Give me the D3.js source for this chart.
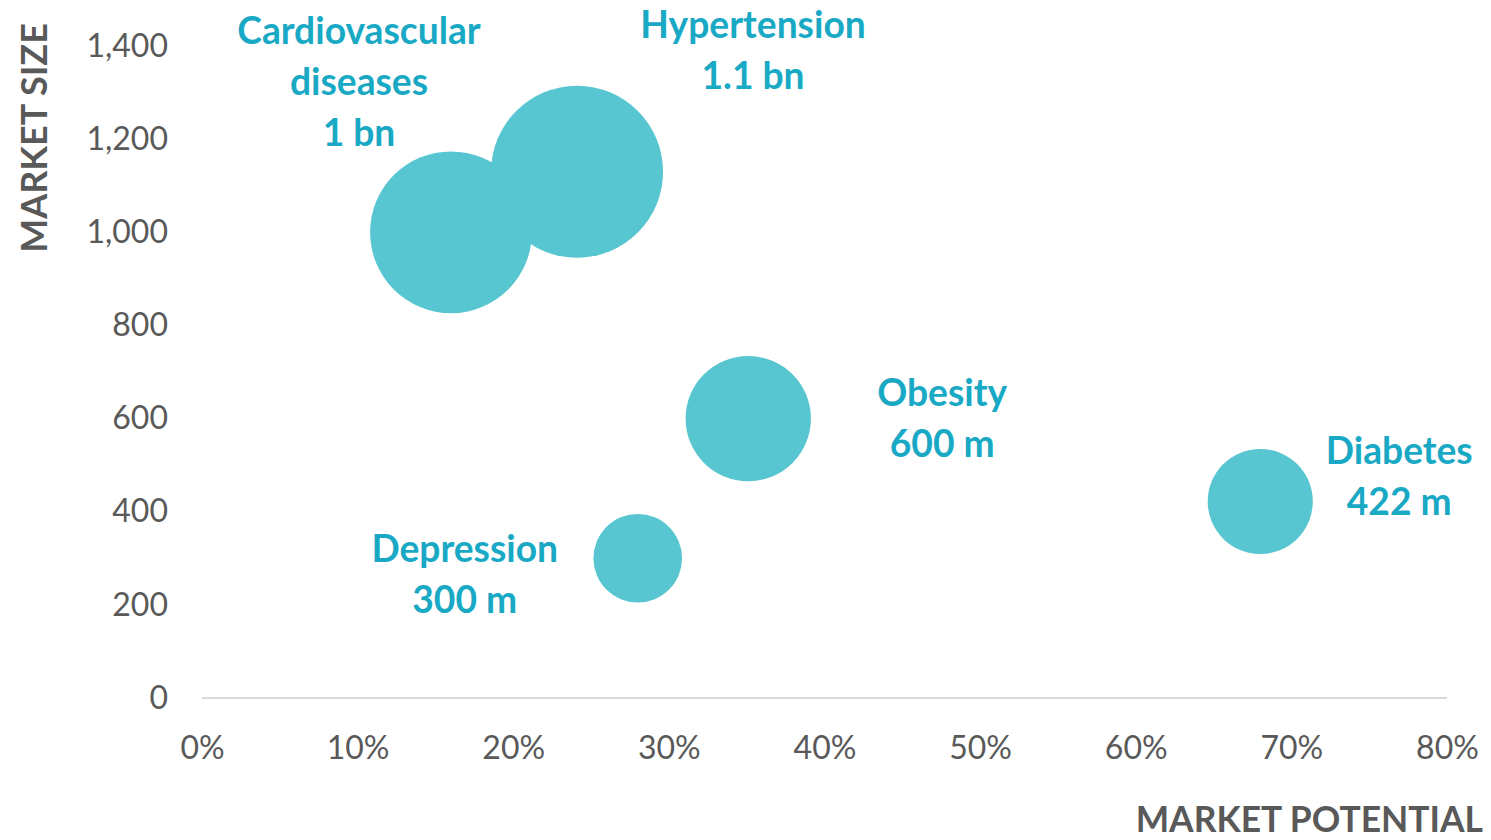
<!DOCTYPE html>
<html>
<head>
<meta charset="utf-8">
<script src="https://cdn.jsdelivr.net/npm/d3@7"></script>
<style>
  html, body { margin: 0; padding: 0; background: #ffffff; }
  svg { display: block; }
</style>
</head>
<body>
<svg id="chart" width="1491" height="840"></svg>
<script>
// Disease markets: potential (share) vs. size (millions of people)
const diseases  = ["Cardiovascular diseases", "Hypertension", "Obesity", "Depression", "Diabetes"];
const potential = [0.16, 0.241, 0.351, 0.28, 0.68];
const marketSize = [1000, 1130, 600, 300, 422];
const valueLabels = ["1 bn", "1.1 bn", "600 m", "300 m", "422 m"];
const nameLines = [["Cardiovascular", "diseases"], ["Hypertension"], ["Obesity"], ["Depression"], ["Diabetes"]];

const xTicks = [0, 0.1, 0.2, 0.3, 0.4, 0.5, 0.6, 0.7, 0.8];
const yTicks = [0, 200, 400, 600, 800, 1000, 1200, 1400];

// label placement relative to each bubble centre (dx = text centre, dy = first baseline)
const labelOffsets = [
  { dx: -92, dy: -188 },
  { dx: 176, dy: -134 },
  { dx: 194, dy: -13 },
  { dx: -173, dy: 4 },
  { dx: 139, dy: -37 }
];

const svg = d3.select("#chart");

const x = d3.scaleLinear().domain([0, 0.8]).range([202, 1447]);
const y = d3.scaleLinear().domain([0, 1400]).range([698, 46]);
const r = d3.scaleSqrt().domain([0, 1130]).range([0, 86]);

const BUBBLE = "#57c6d0";
const LABEL = "#19a9c5";
const GREY = "#595959";
const FONT = "Lato, 'Open Sans', sans-serif";

// baseline at zero
svg.append("line")
  .attr("x1", x(0)).attr("x2", x(0.8))
  .attr("y1", y(0)).attr("y2", y(0))
  .attr("stroke", "#d9d9d9").attr("stroke-width", 2);

// y axis (labels only)
const yAxis = d3.axisLeft(y).tickValues(yTicks).tickSize(0).tickPadding(0)
  .tickFormat(d3.format(","));
const gy = svg.append("g").attr("transform", "translate(168,0)").call(yAxis);
gy.select(".domain").remove();
gy.selectAll("text")
  .attr("font-family", FONT).attr("font-size", 32).attr("fill", GREY);

// x axis (labels only)
const xAxis = d3.axisBottom(x).tickValues(xTicks).tickSize(0).tickPadding(0)
  .tickFormat(d3.format(".0%"));
const gx = svg.append("g").attr("transform", "translate(0,736)").call(xAxis);
gx.select(".domain").remove();
gx.selectAll("text")
  .attr("font-family", FONT).attr("font-size", 32).attr("fill", GREY)
  .attr("dy", "0.71em");

// axis titles
svg.append("text")
  .attr("x", 1483).attr("y", 832)
  .attr("text-anchor", "end")
  .attr("font-family", FONT).attr("font-weight", 700).attr("font-size", 35.4)
  .attr("fill", GREY)
  .text("MARKET POTENTIAL");

svg.append("text")
  .attr("transform", "translate(47,138) rotate(-90)")
  .attr("text-anchor", "middle")
  .attr("font-family", FONT).attr("font-weight", 700).attr("font-size", 36)
  .attr("fill", GREY)
  .text("MARKET SIZE");

const rows = diseases.map((d, i) => ({
  name: d, p: potential[i], s: marketSize[i], value: valueLabels[i],
  lines: nameLines[i].concat([valueLabels[i]]), off: labelOffsets[i]
}));

// bubbles, area proportional to market size
svg.append("g").selectAll("circle")
  .data(rows)
  .join("circle")
  .attr("cx", d => x(d.p))
  .attr("cy", d => y(d.s))
  .attr("r", d => r(d.s))
  .attr("fill", BUBBLE);

// bubble labels
const lbl = svg.append("g").selectAll("text")
  .data(rows)
  .join("text")
  .attr("x", d => x(d.p) + d.off.dx)
  .attr("y", d => y(d.s) + d.off.dy)
  .attr("text-anchor", "middle")
  .attr("font-family", FONT).attr("font-weight", 700).attr("font-size", 37.2)
  .attr("fill", LABEL);

lbl.selectAll("tspan")
  .data(d => d.lines.map(t => ({ t, x: x(d.p) + d.off.dx })))
  .join("tspan")
  .attr("x", t => t.x)
  .attr("dy", (t, j) => j === 0 ? 0 : 51)
  .text(t => t.t);
</script>
</body>
</html>
